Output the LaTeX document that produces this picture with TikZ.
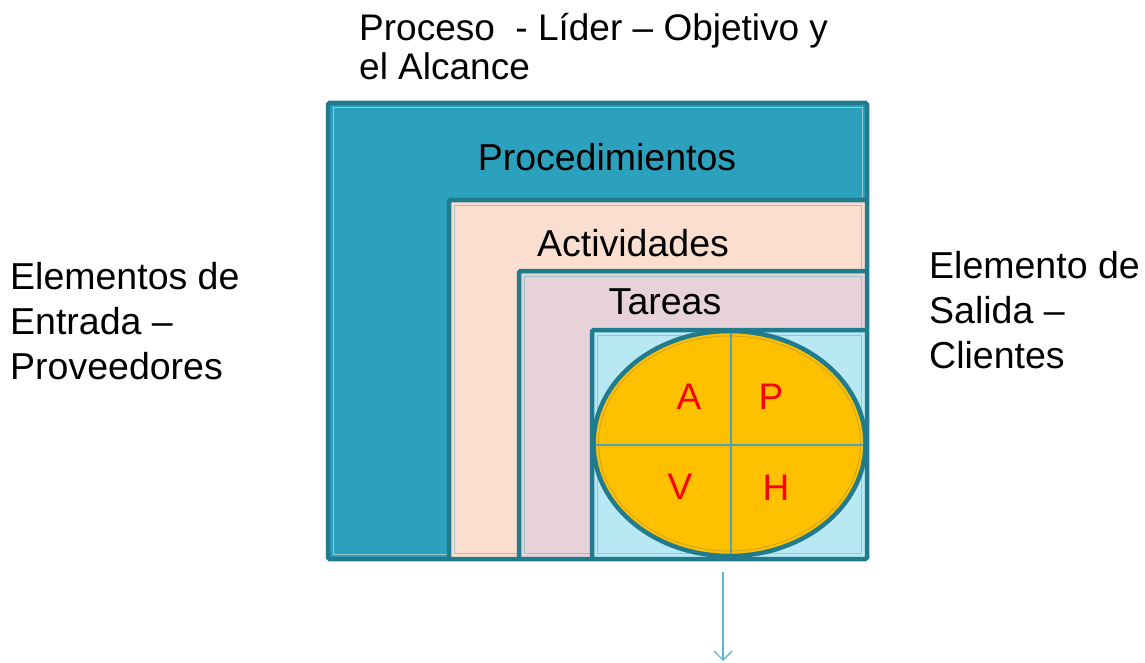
\documentclass[tikz,border=0pt]{standalone}
\usepackage{fontspec}
\setmainfont{Liberation Sans}
\usetikzlibrary{arrows.meta}
\definecolor{bord}{HTML}{217B8F}
\definecolor{outerfill}{HTML}{2CA1BE}
\definecolor{peach}{HTML}{FADFD1}
\definecolor{pinkish}{HTML}{E8D2D9}
\definecolor{lightblue}{HTML}{B7E8F3}
\definecolor{gold}{HTML}{FFC000}
\definecolor{goldline}{HTML}{C9A227}
\definecolor{crossline}{HTML}{4BA3B5}
\definecolor{arrowcol}{HTML}{5BB8D0}
\definecolor{letterred}{HTML}{FF0000}
\begin{document}
\begin{tikzpicture}[x=1pt,y=-1pt,
  txt/.style={inner sep=0pt, font=\fontsize{37.5}{45}\selectfont, align=left},
  toptxt/.style={inner sep=0pt, font=\fontsize{37}{39}\selectfont, align=left},
  letter/.style={inner sep=0pt, font=\fontsize{37}{40}\selectfont, text=letterred, anchor=base},
  boxline/.style={draw=bord, line width=4.5pt, rounded corners=1.5pt},
  innerline/.style={draw=bord!45!white, line width=1pt},
  crossl/.style={draw=crossline, line width=1.3pt},
  arrowline/.style={draw=arrowcol, line width=1.4pt, -{Straight Barb[length=9pt,width=18pt]}}]
\useasboundingbox (0,0) rectangle (1145,663);
% outer box
\fill[outerfill] (328,103) rectangle (867,559);
\draw[innerline] (333,108) rectangle (862,554);
% peach
\fill[peach] (449,200) rectangle (866,558);
\draw[innerline] (454,205) rectangle (861,553);
\draw[boxline] (449,558) -- (449,200) -- (866,200);
% pink
\fill[pinkish] (519,271) rectangle (866,558);
\draw[innerline] (524,276) rectangle (861,553);
\draw[boxline] (519,558) -- (519,271) -- (866,271);
% light blue
\fill[lightblue] (592,330) rectangle (866,558);
\draw[innerline] (597,335) rectangle (861,553);
\draw[boxline] (592,558) -- (592,330) -- (866,330);
% outer border on top
\draw[boxline] (328,103) rectangle (867,559);
% ellipse
\draw[fill=gold, draw=bord, line width=4.5pt] (729.5,443.5) ellipse [x radius=136, y radius=112.5];
\draw[draw=goldline, line width=0.8pt] (729.5,443.5) ellipse [x radius=131, y radius=107.5];
\begin{scope}
\clip (729.5,443.5) ellipse [x radius=134, y radius=110.5];
\draw[crossl] (731,330) -- (731,557);
\draw[crossl] (592,445) -- (867,445);
\end{scope}
% labels
\node[txt, anchor=base] (proc) at (607,171) {Procedimientos};
\node[txt, anchor=base] (act) at (633,256) {Actividades};
\node[txt, anchor=base] (tar) at (665,314) {Tareas};
\node[letter] (la) at (689,409) {A};
\node[letter] (lp) at (771,409) {P};
\node[letter] (lv) at (680,499) {V};
\node[letter] (lh) at (776,500) {H};
\node[toptxt, anchor=base west] (top) at (359,80) {Proceso \ - Líder – Objetivo y\\el Alcance};
\node[txt, anchor=base west] (left) at (10,379) {Elementos de\\Entrada –\\Proveedores};
\node[txt, anchor=base west] (right) at (929,368) {Elemento de\\Salida –\\Clientes};
% arrow
\coordinate (arrS) at (723,572);
\coordinate (arrE) at (723,661);
\draw[arrowline] (arrS) -- (arrE);
\end{tikzpicture}
\end{document}
